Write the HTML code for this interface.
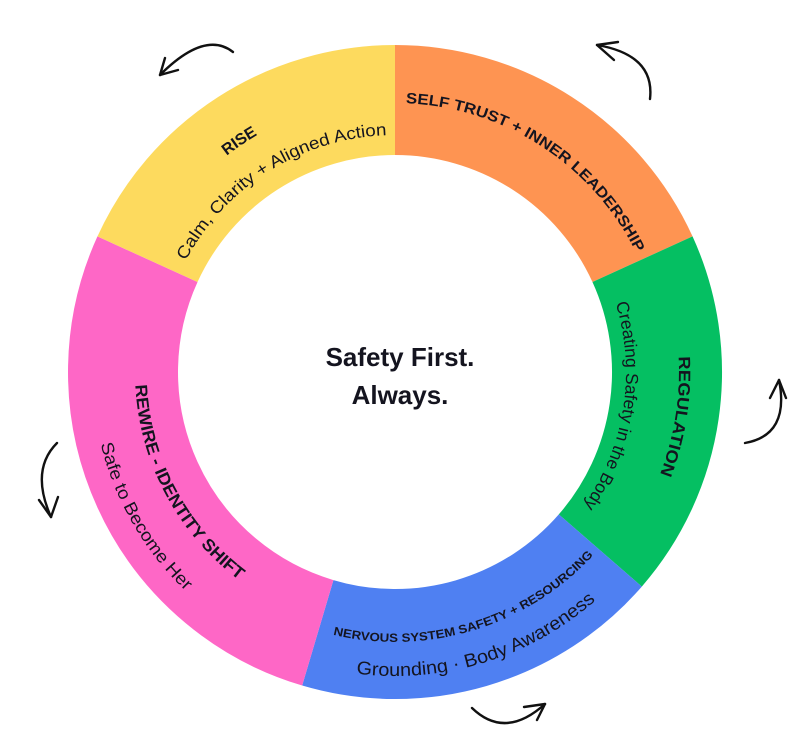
<!DOCTYPE html>
<html><head><meta charset="utf-8"><style>
html,body{margin:0;padding:0;background:#fff;}
svg{display:block;}
text{font-family:"Liberation Sans",sans-serif;fill:#14141f;}
.b{font-weight:bold;}
</style></head><body>
<svg width="799" height="751" viewBox="0 0 799 751" xmlns="http://www.w3.org/2000/svg">
<defs>
<path id="pRise" d="M122.5,343.4 A274,274 0 0 1 470.5,108.6"/>
<path id="pCalm" d="M160.3,339.0 A237,237 0 0 1 468.2,146.6"/>
<path id="pSelf" d="M316.3,114.8 A269,269 0 0 1 662.0,339.2"/>
<path id="pReg" d="M609.3,185.7 A284,284 0 0 1 541.3,615.4"/>
<path id="pCre" d="M569.3,220.4 A231,231 0 0 1 514.0,570.0"/>
<path id="pNerv" d="M248,598.4 A270,270 0 0 0 643.5,477.5"/>
<path id="pGro" d="M229.4,627.0 A304,304 0 0 0 674.8,490.8"/>
<path id="pRew" d="M153.9,274.6 A260,260 0 0 0 340.9,626.3"/>
<path id="pSafe" d="M110.3,268.4 A303,303 0 0 0 342.4,670.4"/>
</defs>
<g fill="none" stroke-width="110">
<path d="M395,100 A272,272 0 0 1 642.5,259.2" stroke="#FE9452"/>
<path d="M642.5,259.2 A272,272 0 0 1 600.3,550.5" stroke="#05BF62"/>
<path d="M600.3,550.5 A272,272 0 0 1 317.8,632.8" stroke="#4F80F2"/>
<path d="M317.8,632.8 A272,272 0 0 1 147.5,259.2" stroke="#FE67C6"/>
<path d="M147.5,259.2 A272,272 0 0 1 395,100" stroke="#FDDA5E"/>
</g>
<text class="b" font-size="16"><textPath href="#pRise" startOffset="50%" text-anchor="middle">RISE</textPath></text>
<text font-size="17"><textPath href="#pCalm" startOffset="50%" text-anchor="middle" textLength="248" lengthAdjust="spacingAndGlyphs">Calm, Clarity + Aligned Action</textPath></text>
<text class="b" font-size="15"><textPath href="#pSelf" startOffset="50%" text-anchor="middle" textLength="288" lengthAdjust="spacingAndGlyphs">SELF TRUST + INNER LEADERSHIP</textPath></text>
<text class="b" font-size="16.5"><textPath href="#pReg" startOffset="50%" text-anchor="middle" textLength="120" lengthAdjust="spacingAndGlyphs">REGULATION</textPath></text>
<text font-size="17.5"><textPath href="#pCre" startOffset="50%" text-anchor="middle" textLength="212" lengthAdjust="spacingAndGlyphs">Creating Safety in the Body</textPath></text>
<text class="b" font-size="12"><textPath href="#pNerv" startOffset="50%" text-anchor="middle" textLength="285" lengthAdjust="spacingAndGlyphs">NERVOUS SYSTEM SAFETY  + RESOURCING</textPath></text>
<text font-size="18.5"><textPath href="#pGro" startOffset="50%" text-anchor="middle" textLength="258" lengthAdjust="spacingAndGlyphs">Grounding · Body Awareness</textPath></text>
<text class="b" font-size="17"><textPath href="#pRew" startOffset="50%" text-anchor="middle" textLength="228" lengthAdjust="spacingAndGlyphs">REWIRE - IDENTITY SHIFT</textPath></text>
<text font-size="17.5"><textPath href="#pSafe" startOffset="50%" text-anchor="middle" textLength="172" lengthAdjust="spacingAndGlyphs">Safe to Become Her</textPath></text>
<text class="b" font-size="26" x="400" y="366" text-anchor="middle" fill="#000">Safety First.</text>
<text class="b" font-size="26" x="400" y="404" text-anchor="middle" fill="#000">Always.</text>
<g fill="none" stroke="#111" stroke-width="2.4" stroke-linecap="round" stroke-linejoin="round">
<path d="M233,52 Q205,30 160,75"/><path d="M160,75 L165,58 M160,75 L178,70"/>
<path d="M650,99 Q655,55 597,45"/><path d="M597,45 L618,42 M597,45 L614,60"/>
<path d="M745,443 Q790,435 779,380"/><path d="M779,380 L770,398 M779,380 L786,398"/>
<path d="M472,708 Q505,740 545,704"/><path d="M545,704 L524,707 M545,704 L537,720"/>
<path d="M57,443 Q30,470 51,517"/><path d="M51,517 L39,500 M51,517 L58,497"/>
</g>
</svg>
</body></html>
